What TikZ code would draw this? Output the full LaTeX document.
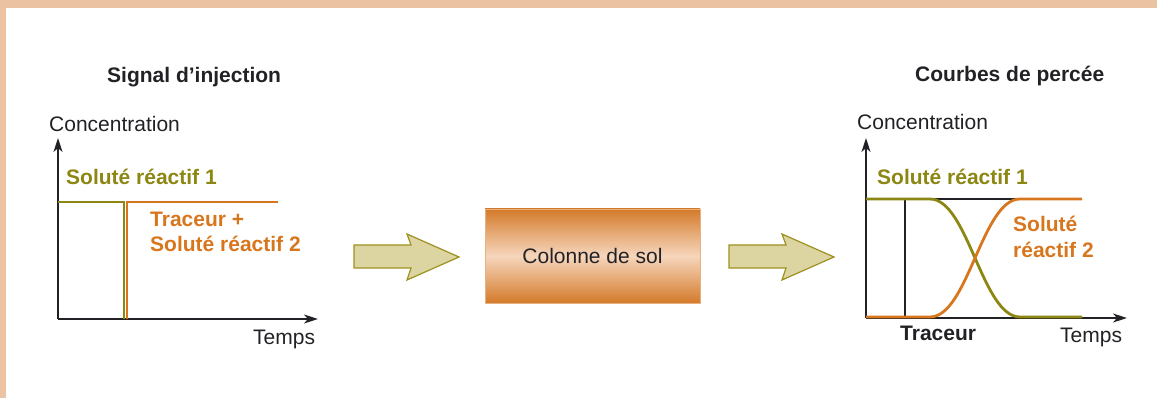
\documentclass[tikz,border=0pt]{standalone}
\usepackage{fontspec}
\setmainfont{Liberation Sans}
\usetikzlibrary{arrows.meta}
\definecolor{framepeach}{RGB}{235,195,163}
\definecolor{olive}{RGB}{140,134,18}
\definecolor{rust}{RGB}{216,118,30}
\definecolor{ink}{RGB}{34,34,38}
\definecolor{khaki}{RGB}{220,213,162}
\definecolor{khakiline}{RGB}{158,144,30}
\definecolor{soilA}{RGB}{212,122,42}
\definecolor{soilB}{RGB}{246,214,188}
\tikzset{
  lbl/.style={anchor=base west, inner sep=0pt, text=ink},
  bold/.style={lbl, font=\fontsize{21}{25}\selectfont\bfseries},
  axis/.style={draw=ink, line width=1.4pt, -{Stealth[length=14pt,width=9pt,inset=4pt]}},
  curveG/.style={draw=olive, line width=2.8pt},
  curveO/.style={draw=rust, line width=2.8pt},
  curveK/.style={draw=ink, line width=2.5pt},
  bigarrow/.style={fill=khaki, draw=khakiline, line width=1.2pt, line join=miter},
  soil/.style={minimum width=215pt, minimum height=94pt, inner sep=0pt,
    top color=soilA, bottom color=soilA, middle color=soilB, draw=soilB!60!soilA, line width=0.6pt,
    text=ink, font=\fontsize{21}{25}\selectfont}
}
\begin{document}
\begin{tikzpicture}[x=1pt, y=-1pt, font=\fontsize{21}{25}\selectfont]
\useasboundingbox (0,0) rectangle (1157,398);
% peach frame along the top and left edges
\fill[framepeach] (0,0) rectangle (1157,8);
\fill[framepeach] (0,0) rectangle (6,398);

% ---------- injection signal ----------
\node[bold] (t1) at (107,83) {Signal d’injection};
\coordinate (o1) at (58,319);
\coordinate (y1) at (58,138);
\coordinate (x1) at (318,319);
\draw[axis] (o1) -- (y1);
\draw[axis] (o1) -- (x1);
\node[lbl] (c1) at (49,132) {Concentration};
\node[lbl] (tm1) at (253,344) {Temps};
\draw[curveG] (58,202) -- (124,202) -- (124,319);
\draw[curveO] (127,319) -- (127,202) -- (278,202);
\node[bold, text=olive] (s1a) at (66,185) {Soluté réactif 1};
\node[bold, text=rust] (tr1) at (150,227) {Traceur +};
\node[bold, text=rust] (s2a) at (150,252) {Soluté réactif 2};

% ---------- big arrows ----------
\draw[bigarrow] (354,245) -- (411,245) -- (407,234) -- (459,257) -- (407,280) -- (411,268) -- (354,268) -- cycle;
\draw[bigarrow] (729,245) -- (786,245) -- (782,234) -- (834,257) -- (782,280) -- (786,268) -- (729,268) -- cycle;

% ---------- soil column ----------
\node[soil] (col) at (592.5,256) {Colonne de sol};

% ---------- breakthrough curves ----------
\node[bold] (t2) at (915,82) {Courbes de percée};
\coordinate (o2) at (866,318);
\coordinate (y2) at (866,138);
\coordinate (x2) at (1127,318);
\draw[axis] (o2) -- (y2);
\draw[axis] (o2) -- (x2);
\node[lbl] (c2) at (857,130) {Concentration};
\node[lbl] (tm2) at (1060,342) {Temps};
\draw[curveK] (905,317) -- (905,199) -- (1080,199);
\draw[curveG] (866,199) -- (930,199) .. controls (968,199) and (982,317) .. (1020,317) -- (1082,317);
\draw[curveO] (866,317) -- (930,317) .. controls (968,317) and (982,199) .. (1020,199) -- (1082,199);
\node[bold, text=olive] (s1b) at (877,185) {Soluté réactif 1};
\node[bold, text=rust] (s2b) at (1013,232) {Soluté};
\node[bold, text=rust] (s2c) at (1013,258) {réactif 2};
\node[bold] (tr2) at (900,340) {Traceur};
\end{tikzpicture}
\end{document}
